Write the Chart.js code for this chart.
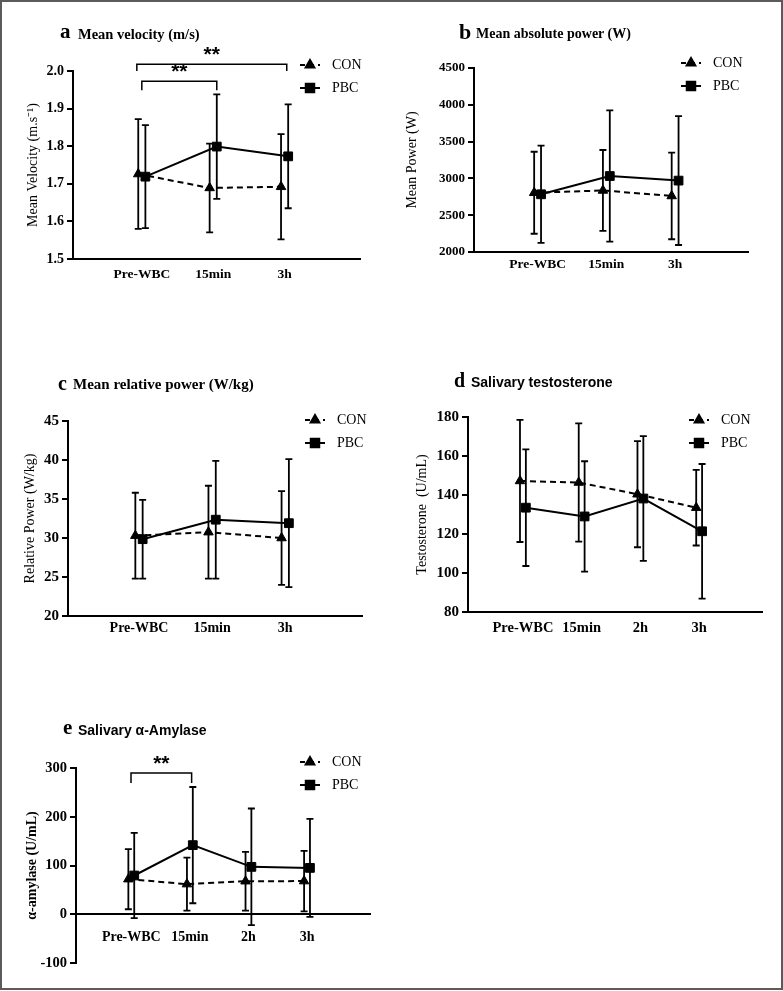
<!DOCTYPE html>
<html>
<head>
<meta charset="utf-8">
<script src="https://cdn.jsdelivr.net/npm/chart.js@4.4.1/dist/chart.umd.min.js"></script>
<style>
html,body{margin:0;padding:0;background:#fff}
#page{position:relative;width:783px;height:991px;overflow:hidden}
#frame{position:absolute;left:0;top:0;width:779px;height:986px;border:2px solid #5b5b5b}
canvas{position:absolute}
.t{position:absolute;white-space:nowrap;line-height:1;font-weight:bold;color:#000}
.serif{font-family:"Liberation Serif","Times New Roman",serif}
.sans{font-family:"Liberation Sans",Arial,sans-serif}
</style>
</head>
<body>
<div id="page">
  <div id="frame"></div>
  <canvas id="ca" width="391" height="300" style="left:0;top:0"></canvas>
  <canvas id="cb" width="392" height="300" style="left:391px;top:0"></canvas>
  <canvas id="cc" width="391" height="290" style="left:0;top:360px"></canvas>
  <canvas id="cd" width="392" height="290" style="left:391px;top:360px"></canvas>
  <canvas id="ce" width="391" height="300" style="left:0;top:690px"></canvas>

  <div class="t serif" style="left:60px;top:21.4px;font-size:21px">a</div>
  <div class="t serif" style="left:78px;top:26.9px;font-size:14.5px">Mean velocity (m/s)</div>
  <div class="t serif" style="left:459px;top:20.6px;font-size:22px">b</div>
  <div class="t serif" style="left:476px;top:27.3px;font-size:14px">Mean absolute power (W)</div>
  <div class="t serif" style="left:58px;top:373.2px;font-size:20px">c</div>
  <div class="t serif" style="left:73px;top:377.4px;font-size:15px">Mean relative power (W/kg)</div>
  <div class="t serif" style="left:454px;top:370.2px;font-size:20px">d</div>
  <div class="t sans" style="left:471px;top:375.1px;font-size:14px">Salivary testosterone</div>
  <div class="t serif" style="left:63px;top:717.4px;font-size:21px">e</div>
  <div class="t sans" style="left:78px;top:723.1px;font-size:14px">Salivary α-Amylase</div>
</div>

<script>
const SERIF = '"Liberation Serif", "Times New Roman", serif';
const SANS = '"Liberation Sans", Arial, sans-serif';

const CATS3 = ['Pre-WBC', '15min', '3h'];
const CATS4 = ['Pre-WBC', '15min', '2h', '3h'];

// a: mean velocity
const velTicks = ['1.5', '1.6', '1.7', '1.8', '1.9', '2.0'];
const velCON = [1.726, 1.689, 1.692];
const velCONsd = [0.146, 0.118, 0.140];
const velPBC = [1.719, 1.799, 1.773];
const velPBCsd = [0.137, 0.139, 0.138];

// b: mean absolute power
const powTicks = ['2000', '2500', '3000', '3500', '4000', '4500'];
const powCON = [2805, 2836, 2761];
const powCONsd = [557, 550, 588];
const powPBC = [2784, 3032, 2970];
const powPBCsd = [661, 891, 875];

// c: mean relative power
const relTicks = ['20', '25', '30', '35', '40', '45'];
const relCON = [30.3, 30.75, 30.0];
const relCONsd = [5.5, 5.95, 6.0];
const relPBC = [29.85, 32.35, 31.9];
const relPBCsd = [5.05, 7.55, 8.2];

// d: salivary testosterone
const tesTicks = ['80', '100', '120', '140', '160', '180'];
const tesCON = [147.2, 146.4, 140.4, 133.5];
const tesCONsd = [31.3, 30.3, 27.2, 19.4];
const tesPBC = [133.5, 129.0, 138.2, 121.4];
const tesPBCsd = [29.9, 28.3, 32.0, 34.5];

// e: salivary alpha-amylase
const amyTicks = ['-100', '0', '100', '200', '300'];
const amyCON = [72, 61.8, 67.8, 68];
const amyCONsd = [61.7, 54.2, 60.3, 62];
const amyPBC = [79.5, 141.8, 97.2, 95.1];
const amyPBCsd = [87.5, 119.2, 119.7, 100.6];

const DODGE = 0.05;

function drawMarker(ctx, style, r, x, y) {
  Chart.helpers.drawPoint(ctx, {pointStyle: style, radius: r, borderWidth: 1, rotation: 0}, x, y);
}

function extras(cfg) {
  return {
    id: 'extras',
    beforeDatasetsDraw(chart) {
      const ctx = chart.ctx, xs = chart.scales.x, ys = chart.scales.y;
      ctx.save();
      ctx.strokeStyle = '#000';
      ctx.lineWidth = 1.8;
      chart.data.datasets.forEach(ds => {
        ds.data.forEach((p, i) => {
          const x = xs.getPixelForValue(p.x);
          const y1 = ys.getPixelForValue(p.y + ds.err[i]);
          const y2 = ys.getPixelForValue(p.y - ds.err[i]);
          ctx.beginPath();
          ctx.moveTo(x, y1); ctx.lineTo(x, y2);
          ctx.moveTo(x - 3.5, y1); ctx.lineTo(x + 3.5, y1);
          ctx.moveTo(x - 3.5, y2); ctx.lineTo(x + 3.5, y2);
          ctx.stroke();
        });
      });
      ctx.restore();
    },
    afterDraw(chart) {
      const ctx = chart.ctx, xs = chart.scales.x, ys = chart.scales.y;
      ctx.save();
      // significance brackets
      (cfg.brackets || []).forEach(b => {
        const x1 = xs.getPixelForValue(b.from), x2 = xs.getPixelForValue(b.to);
        const yT = ys.getPixelForValue(b.top), yB = ys.getPixelForValue(b.drop);
        ctx.strokeStyle = '#000';
        ctx.lineWidth = 1.5;
        ctx.beginPath();
        ctx.moveTo(x1, yB); ctx.lineTo(x1, yT); ctx.lineTo(x2, yT); ctx.lineTo(x2, yB);
        ctx.stroke();
        ctx.fillStyle = '#000';
        ctx.font = 'bold 21px ' + SANS;
        ctx.textAlign = 'center';
        ctx.textBaseline = 'alphabetic';
        ctx.fillText('**', (x1 + x2) / 2, yT - 3);
      });
      // legend
      const L = cfg.legend;
      ctx.fillStyle = '#000';
      ctx.strokeStyle = '#000';
      ctx.lineWidth = 2;
      ctx.setLineDash([5, 4]);
      ctx.beginPath(); ctx.moveTo(L.x, L.y); ctx.lineTo(L.x + 20, L.y); ctx.stroke();
      ctx.setLineDash([]);
      ctx.beginPath(); ctx.moveTo(L.x, L.y + 23); ctx.lineTo(L.x + 20, L.y + 23); ctx.stroke();
      drawMarker(ctx, 'triangle', 5, L.x + 10, L.y);
      drawMarker(ctx, 'rect', 6, L.x + 10, L.y + 23);
      ctx.font = '14px ' + SERIF;
      ctx.textAlign = 'left';
      ctx.textBaseline = 'middle';
      ctx.fillText('CON', L.x + 32, L.y);
      ctx.fillText('PBC', L.x + 32, L.y + 23);
      ctx.restore();
    }
  };
}

function panel(id, cfg) {
  const cv = document.getElementById(id);
  const W = cv.width, H = cv.height, ar = cfg.area;
  const xh = cfg.xAtZero ? 0 : H - ar.bottom;
  const yt = cfg.ticks.map(Number);
  const pts = (vals, off) => vals.map((v, i) => ({x: i + 1 + off, y: v}));
  new Chart(cv.getContext('2d'), {
    type: 'line',
    data: {
      datasets: [
        {label: 'CON', data: pts(cfg.con, -DODGE), err: cfg.conSd,
         borderColor: '#000', borderWidth: 2, borderDash: [6, 4], tension: 0,
         pointStyle: 'triangle', pointRadius: 5.5, pointBackgroundColor: '#000',
         pointBorderColor: '#000', pointBorderWidth: 1},
        {label: 'PBC', data: pts(cfg.pbc, DODGE), err: cfg.pbcSd,
         borderColor: '#000', borderWidth: 2, tension: 0,
         pointStyle: 'rect', pointRadius: 6.2, pointBackgroundColor: '#000',
         pointBorderColor: '#000', pointBorderWidth: 1}
      ]
    },
    options: {
      responsive: false,
      animation: false,
      layout: {padding: {left: 0, top: ar.top, right: W - ar.right, bottom: H - ar.bottom - xh}},
      plugins: {legend: {display: false}, tooltip: {enabled: false}},
      scales: {
        x: {
          type: 'linear', min: cfg.xmin, max: cfg.xmax,
          position: cfg.xAtZero ? {y: 0} : 'bottom',
          afterBuildTicks: s => { s.ticks = cfg.cats.map((c, i) => ({value: i + 1})); },
          afterFit: s => { s.height = xh; },
          grid: {display: false, drawTicks: false},
          border: {color: '#000', width: 2},
          ticks: {
            autoSkip: false, maxRotation: 0, color: '#000', padding: cfg.xpad,
            font: {family: SERIF, size: cfg.xfs, weight: 'bold'},
            callback: v => cfg.cats[Math.round(v) - 1]
          }
        },
        y: {
          type: 'linear', min: yt[0], max: yt[yt.length - 1],
          afterBuildTicks: s => { s.ticks = yt.map(v => ({value: v})); },
          afterFit: s => { s.width = ar.left; },
          grid: {display: true, drawOnChartArea: false, drawTicks: true, tickLength: 6, color: '#000', lineWidth: 2},
          border: {color: '#000', width: 2},
          ticks: {
            color: '#000', padding: 3,
            font: {family: SERIF, size: cfg.yfs, weight: 'bold'},
            callback: (v, i) => cfg.ticks[i]
          },
          title: {
            display: true, text: cfg.ytitle, color: '#000',
            font: {family: SERIF, size: 14, weight: cfg.ytBold ? 'bold' : 'normal'},
            padding: {top: cfg.ytx - 8.4, bottom: 0}
          }
        }
      }
    },
    plugins: [extras(cfg)]
  });
}

panel('ca', {
  cats: CATS3, ticks: velTicks, con: velCON, conSd: velCONsd, pbc: velPBC, pbcSd: velPBCsd,
  area: {left: 73, top: 71, right: 360, bottom: 259}, xmin: 0.036, xmax: 4.056,
  xfs: 13.5, yfs: 14, xpad: 7, ytx: 33, ytitle: 'Mean Velocity (m.s\u207B\u00B9)',
  legend: {x: 300, y: 65},
  brackets: [{from: 0.93, to: 3.03, top: 2.018, drop: 2.0}, {from: 1.0, to: 2.05, top: 1.973, drop: 1.949}]
});

panel('cb', {
  cats: CATS3, ticks: powTicks, con: powCON, conSd: powCONsd, pbc: powPBC, pbcSd: powPBCsd,
  area: {left: 83, top: 68, right: 357, bottom: 252}, xmin: 0.075, xmax: 4.06,
  xfs: 13.5, yfs: 13, xpad: 4.5, ytx: 21, ytitle: 'Mean Power (W)',
  legend: {x: 290, y: 63}
});

panel('cc', {
  cats: CATS3, ticks: relTicks, con: relCON, conSd: relCONsd, pbc: relPBC, pbcSd: relPBCsd,
  area: {left: 68, top: 61, right: 362, bottom: 256}, xmin: 0.029, xmax: 4.05,
  xfs: 14, yfs: 15, xpad: 4, ytx: 30.5, ytitle: 'Relative Power (W/kg)',
  legend: {x: 305, y: 60}
});

panel('cd', {
  cats: CATS4, ticks: tesTicks, con: tesCON, conSd: tesCONsd, pbc: tesPBC, pbcSd: tesPBCsd,
  area: {left: 77, top: 57, right: 371, bottom: 252}, xmin: 0.065, xmax: 5.07,
  xfs: 14.5, yfs: 15, xpad: 8, ytx: 31, ytitle: 'Testosterone  (U/mL)',
  legend: {x: 298, y: 60}
});

panel('ce', {
  cats: CATS4, ticks: amyTicks, con: amyCON, conSd: amyCONsd, pbc: amyPBC, pbcSd: amyPBCsd,
  area: {left: 76, top: 78, right: 370, bottom: 273}, xmin: 0.056, xmax: 5.075, xAtZero: true,
  xfs: 14, yfs: 14.5, xpad: 15, ytx: 32, ytBold: true, ytitle: '\u03B1-amylase (U/mL)',
  legend: {x: 300, y: 72},
  brackets: [{from: 0.995, to: 2.03, top: 289.8, drop: 269.3}]
});
</script>
</body>
</html>
